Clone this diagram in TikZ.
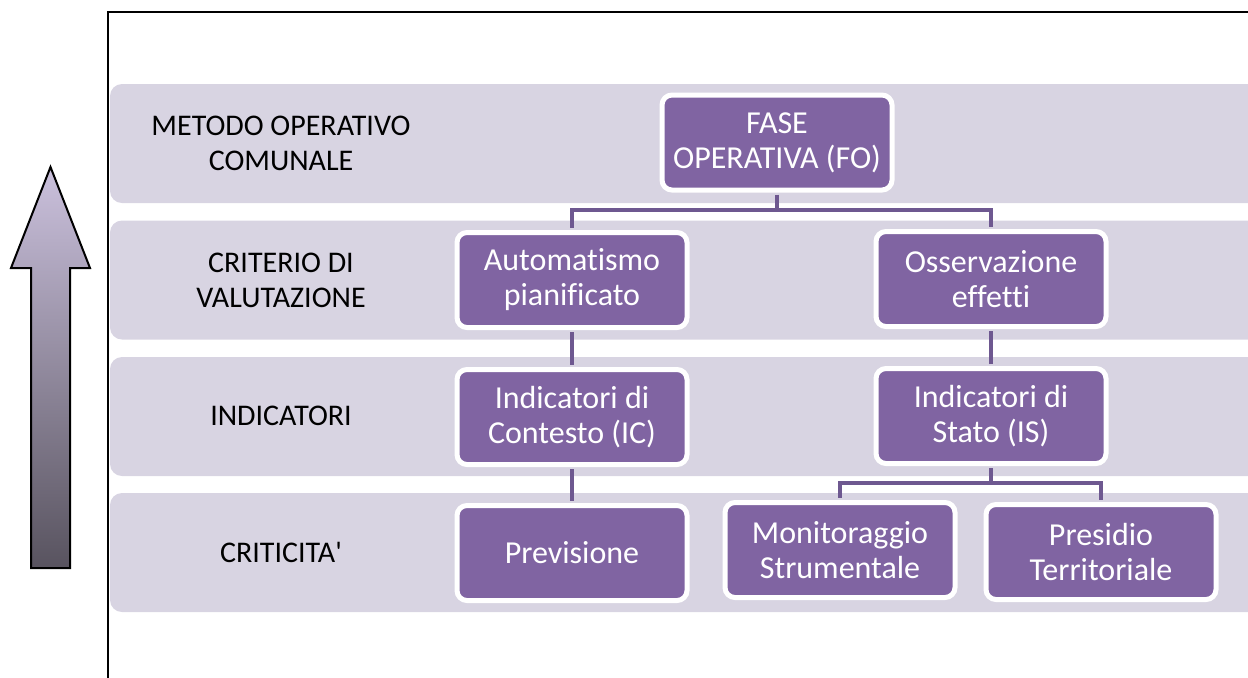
\documentclass[tikz,border=0pt]{standalone}
\usepackage{fontspec}
\setmainfont{Carlito}[Ligatures={TeX,NoCommon}]
\usetikzlibrary{positioning}

\definecolor{bandgray}{HTML}{D8D4E2}
\definecolor{boxpurple}{HTML}{8064A2}
\definecolor{linkpurple}{HTML}{6E5890}
\definecolor{arrowtop}{HTML}{CBC1DD}
\definecolor{arrowbot}{HTML}{58535F}

\tikzset{
	band/.style={fill=bandgray, rounded corners=6pt},
	level/.style={align=center, font=\fontsize{15}{17.5}\selectfont},
	box/.style={rectangle, rounded corners=5pt, fill=boxpurple, draw=white, line width=2.5pt,
		text=white, align=center, minimum width=115pt, minimum height=47.5pt,
		font=\fontsize{16}{17.5}\selectfont},
	link/.style={draw=linkpurple, line width=2.3pt, shorten <=1.2pt, shorten >=1.2pt}
}

\begin{document}
\begin{tikzpicture}[x=0.5pt, y=-0.5pt]
	\useasboundingbox (0,0) rectangle (1248,677);

	% bands
	\foreach \t in {84,220.5,357,493}
		\fill[band] (110,\t) rectangle (1275,\t+119);

	\draw[line width=1pt] (108,690) -- (108,12) -- (1260,12);

	% big arrow
	\shadedraw[top color=arrowtop, bottom color=arrowbot, draw=black, line width=1pt]
		(31,568) -- (31,268) -- (11,268) -- (50.5,167) -- (90,268) -- (70,268) -- (70,568) -- cycle;

	\node[level] (mlabel) at (281,143) {METODO OPERATIVO\\COMUNALE};
	\node[level] (clabel) at (281,280) {CRITERIO DI\\VALUTAZIONE};
	\node[level] (ilabel) at (281,416) {INDICATORI};
	\node[level] (klabel) at (281,552) {CRITICITA\textquotesingle};

	\node[box] (fo)   at (777,142.5) {FASE\\OPERATIVA (FO)};
	\node[box] (auto) at (572,280)   {Automatismo\\pianificato};
	\node[box] (oss)  at (991,279)   {Osservazione\\effetti};
	\node[box] (ic)   at (572,417)   {Indicatori di\\Contesto (IC)};
	\node[box] (is)   at (991,416)   {Indicatori di\\Stato (IS)};
	\node[box] (prev) at (572,553)   {Previsione};
	\node[box] (mon)  at (840,550)   {Monitoraggio\\Strumentale};
	\node[box] (pres) at (1101,552)  {Presidio\\Territoriale};

	% connectors
	\draw[link] (fo.south) -- ++(0,17.5) -| (auto.north);
	\draw[link] (fo.south) -- ++(0,17.5) -| (oss.north);
	\draw[link] (auto) -- (ic);
	\draw[link] (oss) -- (is);
	\draw[link] (ic) -- (prev);
	\draw[link] (is.south) -- ++(0,17) -| (mon.north);
	\draw[link] (is.south) -- ++(0,17) -| (pres.north);
\end{tikzpicture}
\end{document}
